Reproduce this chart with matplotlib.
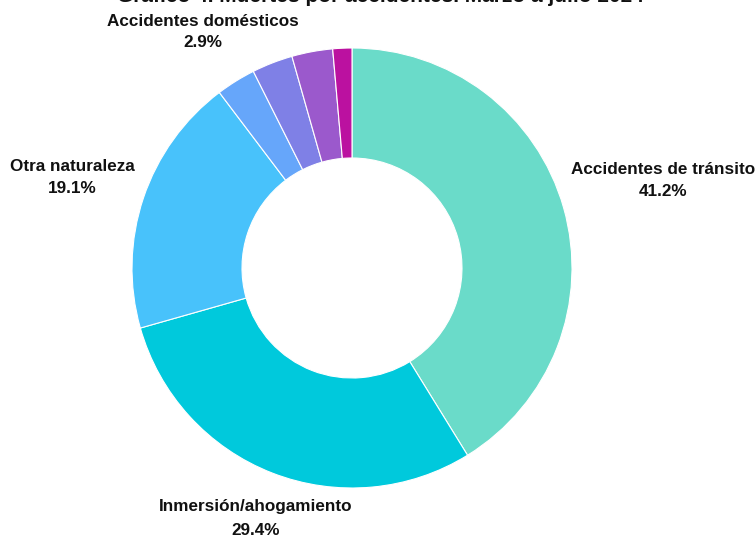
import matplotlib
matplotlib.use("Agg")
import matplotlib.pyplot as plt
import numpy as np

plt.rcParams['font.family'] = ['Liberation Sans', 'DejaVu Sans']

title = "Gráfico 4. Muertes por accidentes. Marzo a julio 2024"
categories = ["Accidentes de tránsito", "Inmersión/ahogamiento", "Otra naturaleza",
              "Accidentes domésticos", "Caídas", "Intoxicaciones", "Otros"]
values = [41.2, 29.4, 19.1, 2.9, 3.0, 3.0, 1.4]
show_label = [True, True, True, True, False, False, False]
colors = ["#6adbc9", "#00c9dc", "#48c2fb", "#66a6fa", "#7f80e6", "#9b59cc", "#bb11a0"]

W, H = 756, 535
fig = plt.figure(figsize=(W / 100, H / 100), dpi=100)
cx, cy, R = 352, 268, 220
ax = fig.add_axes([(cx - R) / W, (H - cy - R) / H, 2 * R / W, 2 * R / H])

wedges, _ = ax.pie(values, colors=colors, startangle=90, counterclock=False,
                   radius=1, wedgeprops=dict(width=0.5, edgecolor='white', linewidth=0.8))
ax.set_xlim(-1, 1)
ax.set_ylim(-1, 1)
ax.set_aspect('equal')
ax.axis('off')

# label offsets in axes-data units (dx, dy) from the default radial position
label_radius = [1.47, 1.22, 1.36, 1.28]
label_shift = [(0.0, -0.005), (0.005, 0.0), (0.02, -0.02), (0.0, -0.015)]
label_gap = [0.1, 0.11, 0.1, 0.095]
total = sum(values)
cum = 0
for i, v in enumerate(values):
    mid = (cum + v / 2) / total * 360
    cum += v
    if not show_label[i]:
        continue
    a = np.deg2rad(90 - mid)
    r = label_radius[i]
    x = r * np.cos(a) + label_shift[i][0]
    y = r * np.sin(a) + label_shift[i][1]
    ax.text(x, y + label_gap[i] / 2, categories[i], ha='center', va='center',
            fontsize=12.3, fontweight='bold', color='#111111', clip_on=False)
    ax.text(x, y - label_gap[i] / 2, f"{v:.1f}%", ha='center', va='center',
            fontsize=12.3, fontweight='bold', color='#111111', clip_on=False)

fig.text(380 / W, 1 - 2 / H, title, ha='center', va='baseline',
         fontsize=15, fontweight='bold', color='#111111')

fig.savefig("out.png", dpi=100)
